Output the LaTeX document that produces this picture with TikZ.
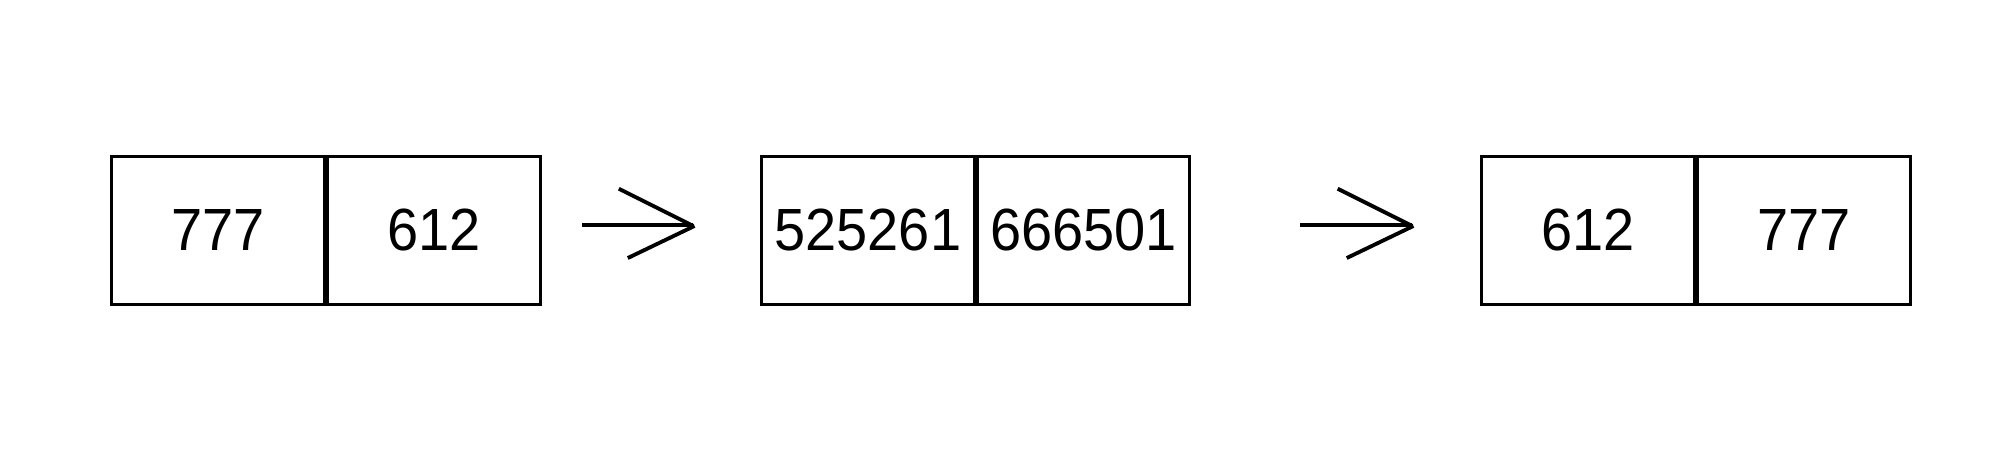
\documentclass[tikz,border=0pt]{standalone}
\usepackage{fontspec}
\setmainfont{Liberation Sans}[FakeStretch=0.94]
\usetikzlibrary{positioning}

\begin{document}
\begin{tikzpicture}[x=0.1mm,y=0.1mm]
\tikzstyle{cell}=[rectangle,draw,line width=0.65pt,minimum width=16.57mm,minimum height=11.47mm,inner sep=0pt,font=\fontsize{13.2}{15}\selectfont]
\tikzstyle{arr}=[line width=0.85pt]
\useasboundingbox (0,0) rectangle (1568,351);
\node[cell](A1) at (170,171.5) {777};
\node[cell,right=0pt of A1](A2) {612};
\node[cell](B1) at (676,171.5) {525261};
\node[cell,right=0pt of B1](B2) {666501};
\node[cell](C1) at (1237,171.5) {612};
\node[cell,right=0pt of C1](C2) {777};

\coordinate (P) at (540,176);
\coordinate (Q) at (1100,176);
\foreach \t in {P,Q}{
\draw[arr] (\t) -- ++(-87,0);
\draw[arr] (\t) ++(-58,28) -- ++(58,-29);
\draw[arr] (\t) ++(-51,-26) -- ++(52,25);
}
\end{tikzpicture}
\end{document}
